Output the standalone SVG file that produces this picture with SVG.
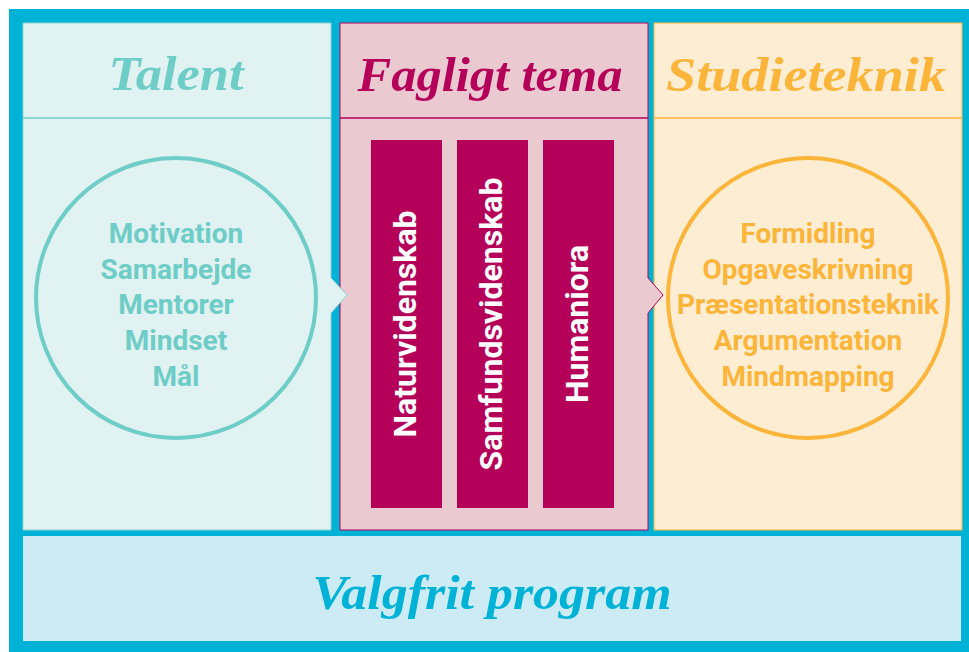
<svg xmlns="http://www.w3.org/2000/svg" width="969" height="652" viewBox="0 0 969 652">
<style>
.head{font-family:"Liberation Serif","DejaVu Serif",serif;font-style:italic;font-weight:bold;font-size:48px;text-anchor:middle}
.item{font-family:Roboto,"Liberation Sans",sans-serif;font-weight:bold;font-size:28px;text-anchor:middle}
.bar{fill:#b5005a}
.bartext{font-family:Roboto,"Liberation Sans",sans-serif;font-weight:bold;font-size:32px;fill:#ffffff;text-anchor:middle;dominant-baseline:central}
</style>
<rect x="0" y="0" width="969" height="652" fill="#ffffff"/>
<rect x="9" y="9" width="960" height="643" fill="#00b3d6"/>
<g id="studieteknik">
<rect x="654" y="23" width="308" height="507" fill="#fdedd3" stroke="#fbb53a" stroke-width="1"/>
<line x1="654" y1="118" x2="962" y2="118" stroke="#fbb53a" stroke-width="1.5"/>
<text class="head" x="806" y="91" fill="#fbb53a" textLength="280" lengthAdjust="spacingAndGlyphs">Studieteknik</text>
<circle cx="808" cy="298" r="140" fill="none" stroke="#fbb53a" stroke-width="4"/>
<g class="item" fill="#fbb53a">
<text x="808" y="243">Formidling</text>
<text x="808" y="279">Opgaveskrivning</text>
<text x="808" y="314">Præsentationsteknik</text>
<text x="808" y="350">Argumentation</text>
<text x="808" y="386">Mindmapping</text>
</g>
</g>
<g id="faglig">
<path d="M340,23 H648 V278 L663,295 L648,313 V530 H340 Z" fill="#ebc9d1" stroke="#b5005a" stroke-width="1"/>
<line x1="340" y1="118" x2="648" y2="118" stroke="#b5005a" stroke-width="1.5"/>
<text class="head" x="490" y="91" fill="#b5005a" textLength="265" lengthAdjust="spacingAndGlyphs">Fagligt tema</text>
</g>
<g id="naturvidenskab">
<rect class="bar" x="371" y="140" width="71" height="368"/>
<text class="bartext" transform="translate(405,324) rotate(-90)">Naturvidenskab</text>
</g>
<g id="samfundsvidenskab">
<rect class="bar" x="457" y="140" width="71" height="368"/>
<text class="bartext" transform="translate(491,324) rotate(-90)">Samfundsvidenskab</text>
</g>
<g id="humaniora">
<rect class="bar" x="543" y="140" width="71" height="368"/>
<text class="bartext" transform="translate(577,324) rotate(-90)">Humaniora</text>
</g>
<g id="talent">
<path d="M23,23 H331 V278 L347,295 L331,313 V530 H23 Z" fill="#e0f2f1" stroke="#8fd3cf" stroke-width="1"/>
<line x1="23" y1="118" x2="331" y2="118" stroke="#6ecdc6" stroke-width="1.5"/>
<text class="head" x="176" y="90" fill="#6ecdc6" textLength="135" lengthAdjust="spacingAndGlyphs">Talent</text>
<circle cx="176" cy="298" r="140" fill="none" stroke="#6ecdc6" stroke-width="4"/>
<g class="item" fill="#6ecdc6">
<text x="176" y="243">Motivation</text>
<text x="176" y="279">Samarbejde</text>
<text x="176" y="314">Mentorer</text>
<text x="176" y="350">Mindset</text>
<text x="176" y="386">Mål</text>
</g>
</g>
<g id="valgfrit">
<rect x="23" y="536" width="938" height="105" fill="#cdebf5"/>
<text class="head" x="492" y="609" fill="#00b3d6" font-size="50" textLength="359" lengthAdjust="spacingAndGlyphs">Valgfrit program</text>
</g>
<g id="connectors"></g>
</svg>
